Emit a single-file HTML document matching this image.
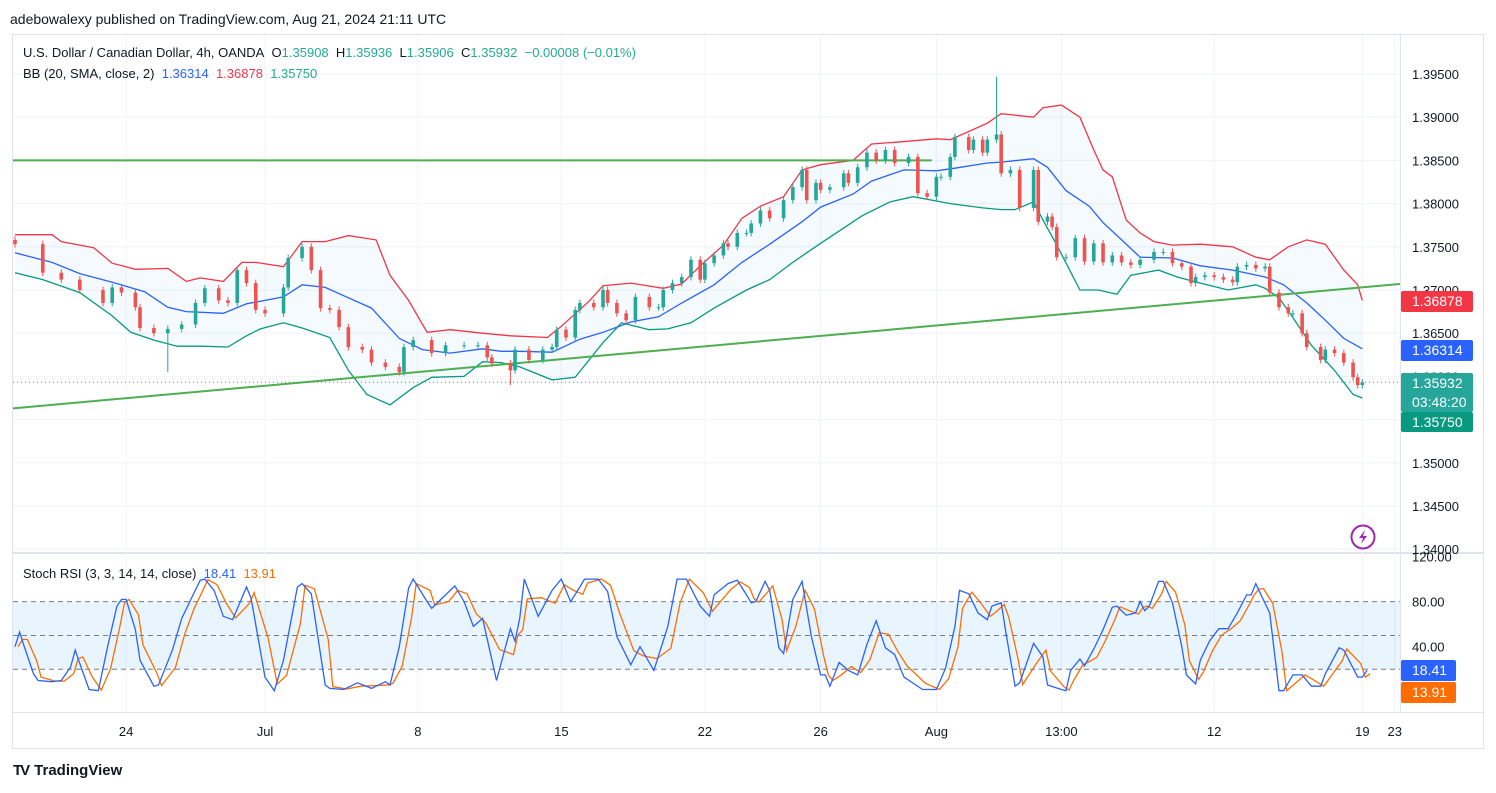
<!DOCTYPE html>
<html><head><meta charset="utf-8">
<style>
body{margin:0;background:#fff;font-family:"Liberation Sans",sans-serif;}
#wrap{position:relative;width:1496px;height:793px;overflow:hidden;background:#fff;}
.t{position:absolute;white-space:nowrap;font-size:13px;color:#131722;}
</style></head>
<body>
<div id="wrap">
<div class="t" style="left:10px;top:11px;font-size:14px;">adebowalexy published on TradingView.com, Aug 21, 2024 21:11 UTC</div>
<svg id="svg" width="1496" height="793" style="position:absolute;left:0;top:0"></svg>
<div class="t" style="left:23px;top:45px;">U.S. Dollar / Canadian Dollar, 4h, OANDA&nbsp; O<span style="color:#22ab94">1.35908</span>&nbsp; H<span style="color:#22ab94">1.35936</span>&nbsp; L<span style="color:#22ab94">1.35906</span>&nbsp; C<span style="color:#22ab94">1.35932</span>&nbsp; <span style="color:#22ab94">−0.00008 (−0.01%)</span></div>
<div class="t" style="left:23px;top:66px;">BB (20, SMA, close, 2)&nbsp; <span style="color:#2962ff">1.36314</span>&nbsp; <span style="color:#f23645">1.36878</span>&nbsp; <span style="color:#22ab94">1.35750</span></div>
<div class="t" style="left:23px;top:566px;">Stoch RSI (3, 3, 14, 14, close)&nbsp; <span style="color:#2962ff">18.41</span>&nbsp; <span style="color:#ff6d00">13.91</span></div>
<div class="t" style="left:13px;top:762px;font-size:15px;font-weight:bold;"><span style="display:inline-block;font-weight:900;letter-spacing:-2px;margin-right:6px;">TV</span>TradingView</div>
</div>
<script>
const bars=[0,6,10,14,19,21,23,26,27,30,33,36,39,41,44,46,48,50,52,54,58,59,62,64,66,68,70,72,75,77,80,83,84,86,90,93,97,100,102,103,107,108,111,114,116,117,119,121,122,125,127,128,130,132,134,137,139,140,142,144,146,148,149,151,153,154,156,158,159,161,163,166,168,170,171,173,174,176,179,180,182,184,186,188,190,193,195,197,199,200,202,203,206,207,209,210,212,213,215,217,220,221,223,224,225,227,229,231,233,235,237,239,241,243,246,248,250,252,254,255,257,259,261,263,264,266,268,270,271,273,275,276,278,279,282,283,285,287,289,290,291];
const closes=[1.3753,1.3720,1.3712,1.3700,1.3685,1.3703,1.3697,1.3680,1.3656,1.3650,1.3655,1.3660,1.3685,1.3702,1.3688,1.3685,1.3723,1.3708,1.3677,1.3673,1.3703,1.3737,1.3750,1.3723,1.3679,1.3677,1.3657,1.3634,1.3631,1.3616,1.3611,1.3605,1.3634,1.3642,1.3627,1.3636,1.3636,1.3636,1.3622,1.3615,1.3607,1.3631,1.3619,1.3631,1.3634,1.3654,1.3645,1.3677,1.3685,1.3680,1.3700,1.3685,1.3673,1.3665,1.3692,1.3680,1.3680,1.3700,1.3708,1.3715,1.3735,1.3712,1.3731,1.3740,1.3754,1.3750,1.3766,1.3766,1.3777,1.3792,1.3783,1.3804,1.3819,1.3839,1.3804,1.3824,1.3816,1.3819,1.3835,1.3824,1.3842,1.3859,1.3850,1.3862,1.3847,1.3854,1.3812,1.3808,1.3831,1.3831,1.3854,1.3877,1.3862,1.3874,1.3859,1.3874,1.3880,1.3835,1.3839,1.3795,1.3839,1.3779,1.3785,1.3773,1.3738,1.3738,1.3760,1.3733,1.3754,1.3732,1.3740,1.3732,1.3729,1.3735,1.3744,1.3744,1.3731,1.3727,1.3708,1.3715,1.3717,1.3715,1.3712,1.3709,1.3727,1.3729,1.3725,1.3727,1.3697,1.3680,1.3673,1.3673,1.3650,1.3634,1.3619,1.3631,1.3627,1.3616,1.3599,1.3590,1.3593];
const spikeBars=[33,107,212];
const spikePrices=[1.3605,1.3590,1.3947];
const upBars=[0,8,10,17,21,26,33,37,40,45,49,52,58,62,67,72,78,81,85,89,94,101,107,115,118,124,127,133,140,144,148,153,157,161,166,170,174,181,185,190,199,202,210,213,220,222,226,230,233,235,237,240,243,246,250,256,263,268,271,275,279,283,287,290,291];
const upVals=[1.3764,1.3764,1.3756,1.3749,1.3731,1.3724,1.3725,1.3710,1.3714,1.3710,1.3732,1.3732,1.3727,1.3756,1.3756,1.3763,1.3758,1.3717,1.3688,1.3651,1.3654,1.3650,1.3647,1.3645,1.3658,1.3687,1.3705,1.3708,1.3702,1.3707,1.3728,1.3752,1.3783,1.3797,1.3808,1.3839,1.3845,1.3850,1.3869,1.3871,1.3875,1.3874,1.3893,1.3904,1.3900,1.3911,1.3914,1.3900,1.3862,1.3839,1.3831,1.3781,1.3766,1.3756,1.3752,1.3753,1.3750,1.3738,1.3735,1.3750,1.3758,1.3753,1.3723,1.3706,1.3688];
const midBars=[0,8,14,21,28,33,37,45,50,58,62,67,72,77,83,88,94,101,105,109,116,122,127,133,139,144,151,157,163,170,174,181,185,192,199,203,210,213,220,223,227,232,235,239,243,250,256,263,270,274,279,283,287,291];
const midVals=[1.3743,1.3732,1.3719,1.3709,1.3698,1.3680,1.3675,1.3673,1.3684,1.3692,1.3706,1.3703,1.3691,1.3679,1.3644,1.3631,1.3627,1.3632,1.3629,1.3629,1.3628,1.3643,1.3651,1.3663,1.3669,1.3685,1.3706,1.3732,1.3753,1.3779,1.3796,1.3811,1.3826,1.3839,1.3838,1.3841,1.3847,1.3848,1.3852,1.3842,1.3815,1.3797,1.3778,1.3758,1.3738,1.3737,1.3728,1.3723,1.3715,1.3706,1.3685,1.3665,1.3644,1.3632];
const lowBars=[0,6,14,21,25,30,35,40,46,50,53,58,62,68,72,76,81,86,90,97,101,105,109,116,121,127,131,137,141,146,151,158,163,168,174,183,189,194,200,202,209,213,216,220,222,225,230,234,238,241,247,251,256,262,268,270,273,276,280,285,289,291];
const lowVals=[1.3720,1.3712,1.3697,1.3670,1.3651,1.3642,1.3635,1.3635,1.3634,1.3647,1.3655,1.3662,1.3656,1.3645,1.3607,1.3579,1.3567,1.3587,1.3599,1.3600,1.3617,1.3616,1.3611,1.3596,1.3599,1.3639,1.3662,1.3654,1.3655,1.3662,1.3679,1.3700,1.3712,1.3732,1.3754,1.3786,1.3802,1.3808,1.3802,1.3800,1.3795,1.3793,1.3793,1.3802,1.3781,1.3752,1.3700,1.3700,1.3695,1.3717,1.3723,1.3715,1.3708,1.3700,1.3706,1.3702,1.3691,1.3668,1.3636,1.3607,1.3579,1.3575];
const kBars=[0,1,2,4,5,8,10,12,13,14,16,18,20,22,23,24,26,27,30,31,34,36,38,40,41,43,45,47,50,51,54,56,58,61,62,64,67,68,71,74,77,80,81,83,85,86,89,90,93,95,97,99,101,104,107,108,109,110,113,116,118,120,122,123,126,128,130,133,135,138,141,143,145,148,150,151,154,156,158,159,160,162,163,165,166,168,170,172,174,175,176,178,180,182,184,186,188,190,192,196,199,201,203,204,206,208,210,211,213,214,216,217,220,222,223,226,227,228,230,231,233,235,237,238,240,242,243,244,245,247,248,250,252,253,255,256,258,260,262,264,266,267,268,269,271,273,274,276,278,280,282,283,286,287,290,291,292];
const kVals=[40,53,40,16,10,9,10,22,37,25,2,1,40,76,82,82,55,28,5,6,37,65,82,99,100,90,67,64,93,83,13,1,28,93,96,87,6,3,2,8,3,9,6,40,92,100,80,74,86,94,80,58,65,10,56,45,65,100,67,90,100,80,93,100,100,89,49,24,40,19,58,100,100,76,67,86,96,99,86,79,80,98,90,39,34,82,98,49,15,15,5,26,19,15,42,63,39,33,13,2,2,21,58,90,87,70,64,76,79,53,5,8,43,31,6,2,1,19,29,23,38,55,75,76,68,70,80,72,76,98,98,79,40,15,7,28,45,56,56,70,86,86,96,87,70,1,1,15,15,5,5,16,39,37,13,13,19];
const priceTicks=[1.395,1.39,1.385,1.38,1.375,1.37,1.365,1.36,1.355,1.35,1.345,1.34];
const stochTicks=[120,80,40];
const timeLabels=["24","Jul","8","15","22","26","Aug","13:00","12","19","23"];
const timeBars=[24,54,87,118,149,174,199,226,259,291,298];
const trendStart=[0,1.3563],trendEnd=[300,1.3707];
const resistance=[0,198,1.3850];
const lastPrice=1.35932;

const NS="http://www.w3.org/2000/svg";
const svg=document.getElementById('svg');
function el(tag,attrs,parent){const e=document.createElementNS(NS,tag);for(const k in attrs)e.setAttribute(k,attrs[k]);(parent||svg).appendChild(e);return e;}
const X=b=>15+b*4.63;
const PY=p=>74+(1.395-p)/0.005*43.2;
const SY=v=>691.8-v*1.127;
// frame
let f=el('rect',{x:12.5,y:34.5,width:1471,height:714,fill:'none',stroke:'#e0e3eb'});


let sep=el('line',{x1:12,x2:1484,y1:553,y2:553,stroke:'#e0e3eb','stroke-width':2});


el('line',{x1:1400.5,x2:1400.5,y1:35,y2:712,stroke:'#e0e3eb'});
el('line',{x1:12,x2:1484,y1:712.5,y2:712.5,stroke:'#e0e3eb'});
// grids
priceTicks.forEach(p=>{const g=el('line',{x1:13,x2:1400,y1:PY(p),y2:PY(p),stroke:'#f0f3fa'});


const t=el('text',{x:1412,y:PY(p)+5,'font-size':13,fill:'#131722','font-family':'Liberation Sans'});t.textContent=p.toFixed(5);

});
timeBars.forEach((b,i)=>{if(X(b)<1400){el('line',{x1:X(b),x2:X(b),y1:35,y2:712,stroke:'#f0f3fa'});}
const t=el('text',{x:X(b),y:736,'font-size':13,fill:'#131722','text-anchor':'middle','font-family':'Liberation Sans'});t.textContent=timeLabels[i];

});
// stoch band
let band=el('rect',{x:13,y:SY(80),width:1387,height:SY(20)-SY(80),fill:'rgba(33,150,243,0.1)'});


[80,50,20].forEach(v=>{el('line',{x1:13,x2:1400,y1:SY(v),y2:SY(v),stroke:'#787b86','stroke-dasharray':'5,4','stroke-width':1});});
stochTicks.forEach(v=>{const t=el('text',{x:1412,y:SY(v)+5,'font-size':13,fill:'#131722','font-family':'Liberation Sans'});t.textContent=v.toFixed(2);

});
// BB fill
const pts=(bs,vs,fn)=>bs.map((b,i)=>X(b).toFixed(1)+','+fn(vs[i]).toFixed(1));
let fill=el('polygon',{points:pts(upBars,upVals,PY).concat(pts(lowBars,lowVals,PY).reverse()).join(' '),fill:'rgba(33,150,243,0.05)'});


let u=el('polyline',{points:pts(upBars,upVals,PY).join(' '),fill:'none',stroke:'#f23645','stroke-width':1.3});


let m=el('polyline',{points:pts(midBars,midVals,PY).join(' '),fill:'none',stroke:'#2962ff','stroke-width':1.3});


let l=el('polyline',{points:pts(lowBars,lowVals,PY).join(' '),fill:'none',stroke:'#089981','stroke-width':1.3});


// trendlines
let tl=el('line',{x1:X(trendStart[0])-2,y1:PY(trendStart[1]),x2:X(trendEnd[0])-4,y2:PY(trendEnd[1]),stroke:'#4caf50','stroke-width':2});


let rl=el('line',{x1:13,y1:PY(resistance[2]),x2:X(resistance[1]),y2:PY(resistance[2]),stroke:'#4caf50','stroke-width':2});


// last price line
el('line',{x1:13,x2:1400,y1:PY(lastPrice),y2:PY(lastPrice),stroke:'#26a69a','stroke-dasharray':'1,3'});
// candles
closes.forEach((c,i)=>{const o=i?closes[i-1]:c+0.0005;const up=c>=o;const col=up?'#26a69a':'#ef5350';
const top=PY(Math.max(o,c)),bot=PY(Math.min(o,c));
let hi=Math.max(o,c)+0.0004,lo=Math.min(o,c)-0.0004;const si=spikeBars.indexOf(bars[i]);
if(si>=0){if(spikePrices[si]>hi)hi=spikePrices[si];if(spikePrices[si]<lo)lo=spikePrices[si];}
const g=el('g',{});


el('line',{x1:X(bars[i]),x2:X(bars[i]),y1:PY(hi),y2:PY(lo),stroke:col,'stroke-width':1},g);
el('rect',{x:X(bars[i])-1.8,y:top,width:3.6,height:Math.max(1,bot-top),fill:col},g);});
// stoch
const dVals=kVals.map((v,i)=>i?(v+kVals[i-1])/2:v);
let dl=el('polyline',{points:kBars.map((b,i)=>(X(b)+3).toFixed(1)+','+SY(dVals[i]).toFixed(1)).join(' '),fill:'none',stroke:'#ff6d00','stroke-width':1.3});


let kl=el('polyline',{points:pts(kBars,kVals,SY).join(' '),fill:'none',stroke:'#2962ff','stroke-width':1.3});


// axis labels boxes
function box(y,h,col,txt,name,w){const g=el('g',{});


el('rect',{x:1401,y:y,width:w||72,height:h,fill:col,rx:2},g);
txt.forEach((s,j)=>{const t=el('text',{x:1412,y:y+15+j*19,'font-size':14,fill:'#fff','font-family':'Liberation Sans'},g);t.textContent=s;});}
box(291,21,'#f23645',['1.36878'],'upper-band-label');
box(340,21,'#2962ff',['1.36314'],'basis-label');
box(373,39,'#26a69a',['1.35932','03:48:20'],'last-price-label');
box(412,20,'#089981',['1.35750'],'lower-band-label');
box(660,21,'#2962ff',['18.41'],'stoch-k-label',55);
box(682,21,'#ff6d00',['13.91'],'stoch-d-label',55);
// lightning
const lg=el('g',{});


el('circle',{cx:1363,cy:537,r:11.5,fill:'#fff',stroke:'#9c27b0','stroke-width':2},lg);
el('path',{d:'M1365 530 L1359 538 L1363 538 L1361 544 L1367 536 L1363 536 Z',fill:'#9c27b0'},lg);
</script>
</body></html>
